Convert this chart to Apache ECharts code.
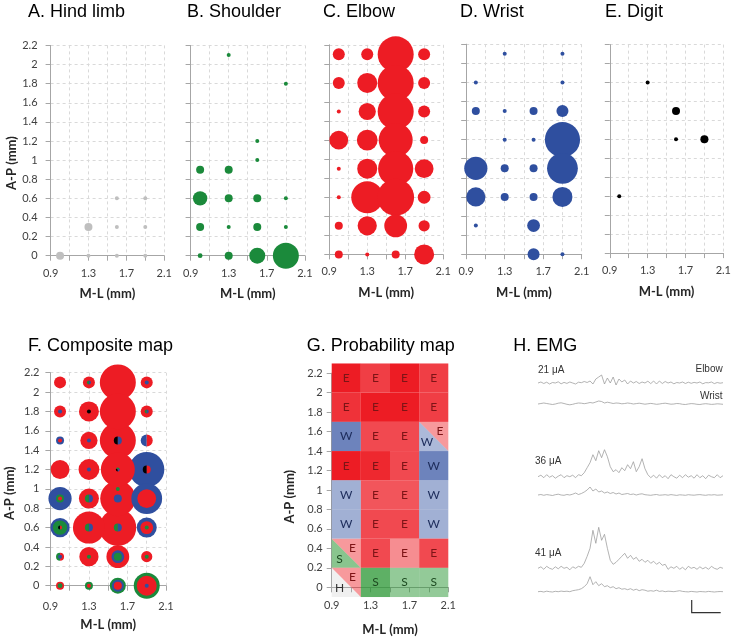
<!DOCTYPE html>
<html><head><meta charset="utf-8">
<script src="https://cdn.jsdelivr.net/npm/echarts@6/dist/echarts.min.js"></script>
<style>html,body{margin:0;padding:0;background:#fff}#c{width:734px;height:640px}</style>
</head><body><div id="c"></div>
<script>
// ================= DATA =================
// M-L axis tick labels shown, A-P tick labels are numeric
const mlTickLabels = ['0.9', '1.3', '1.7', '2.1'];

// Bubble maps: [M-L (mm), A-P (mm), response size]
const hindlimb = [[1.0,0,2],[1.3,0.3,2],[1.3,0,1],[1.6,0.6,1],[1.6,0.3,1],[1.6,0,1],[1.9,0.6,1],[1.9,0.3,1],[1.9,0,1]];
const shoulder = [[1.3,2.1,1],[1.9,1.8,1],[1.6,1.2,1],[1.6,1.0,1],[1.0,0.9,2],[1.3,0.9,2],[1.0,0.6,3.6],[1.3,0.6,2],[1.6,0.6,2],[1.9,0.6,1],
  [1.0,0.3,2],[1.3,0.3,1],[1.6,0.3,2],[1.9,0.3,1],[1.0,0,1.2],[1.3,0,2],[1.6,0,4],[1.9,0,6.5]];
const elbow = [[1.0,2.1,3],[1.3,2.1,3],[1.6,2.1,9],[1.9,2.1,3],
  [1.0,1.8,3],[1.3,1.8,5],[1.6,1.8,9],[1.9,1.8,3],
  [1.0,1.5,1],[1.3,1.5,4.3],[1.6,1.5,9],[1.9,1.5,3],
  [1.0,1.2,4.7],[1.3,1.2,5.2],[1.6,1.2,8.5],[1.9,1.2,2],
  [1.0,0.9,1],[1.3,0.9,5],[1.6,0.9,8.8],[1.9,0.9,4.7],
  [1.0,0.6,1],[1.3,0.6,8],[1.6,0.6,9.2],[1.9,0.6,3.2],
  [1.0,0.3,2],[1.3,0.3,4.8],[1.6,0.3,5.7],[1.9,0.3,2.8],
  [1.0,0,2],[1.3,0,1],[1.6,0,2],[1.9,0,5]];
const wrist = [[1.3,2.1,1],[1.9,2.1,1],[1.0,1.8,1],[1.9,1.8,1],
  [1.0,1.5,2],[1.3,1.5,1],[1.6,1.5,2],[1.9,1.5,3],
  [1.3,1.2,1],[1.6,1.2,1],[1.9,1.2,8.8],
  [1.0,0.9,5.8],[1.3,0.9,2],[1.6,0.9,2],[1.9,0.9,7.7],
  [1.0,0.6,4.8],[1.3,0.6,2],[1.6,0.6,2],[1.9,0.6,5],
  [1.0,0.3,1],[1.6,0.3,3.2],
  [1.6,0,3],[1.9,0,1]];
const digit = [[1.3,1.8,1],[1.6,1.5,2],[1.6,1.2,1],[1.9,1.2,2],[1.0,0.6,1]];

// Probability map: cell centres, dominant response (split cells "lowerLeft/upperRight"), probability
const probML = [1.05, 1.35, 1.65, 1.95];
const probAP = [2.15, 1.85, 1.55, 1.25, 0.95, 0.65, 0.35, 0.05];
const probLabel = [
  ['E','E','E','E'],
  ['E','E','E','E'],
  ['W','E','E','W/E'],
  ['E','E','E','W'],
  ['W','E','E','W'],
  ['W','E','E','W'],
  ['S/E','E','E','E'],
  ['H/E','S','S','S']
];
const probValue = [
  [1.0, 0.85, 1.0, 0.85],
  [0.9, 1.0, 1.0, 0.85],
  [0.7, 0.8, 0.8, [0.4, 0.45]],
  [1.0, 0.95, 0.8, 0.7],
  [0.45, 0.75, 0.75, 0.45],
  [0.45, 0.8, 0.8, 0.45],
  [[0.55, 0.45], 0.8, 0.5, 0.8],
  [[0.2, 0.45], 0.75, 0.5, 0.5]
];

// EMG traces (amplitude, arbitrary units, one sample per step)
const emgElbow21 = [0,1,-0.5,0.8,-1,0.5,0,1.2,-0.8,0.6,-0.4,1,0,-1,0.8,0.3,1.5,0.5,2,-1,4,6,8,-1,5,0,6,-2,4,1,3,-1,2,0,1.5,-0.5,1,0,1.8,-0.6,2,-1,2,-0.5,1.5,0,1,-0.8,0.5,0,1,-0.5,0.8,-0.3,0.6,0,1,-0.8,0.4,0.2,1,-0.6,0.5,-0.2,0.3];
const emgWrist21 = [0,0.5,1,0.5,0,-0.5,0,0.8,1.2,0.5,-0.3,-0.8,-0.3,0.5,1,0.8,0.3,0.8,1.5,1,2,3,2.5,1,1.8,1.2,0.5,1,0.8,0.2,0.5,1,0.6,0,0.4,0.8,0.3,-0.2,0.2,0.6,0.2,-0.3,0,0.5,0.8,0.3,-0.2,0,0.5,0.3,-0.3,-0.5,0,0.4,0.2,-0.3,-0.5,0,0.3,0,-0.4,-0.2,0.2,0,-0.3];
const emgElbow36 = [0,1.5,-1,2,-0.5,1,-1.5,0.5,2,-1,1,0,1.5,-1,2,1,4,9,14,22,16,26,19,27,20,10,5,7,4,9,6,12,8,15,5,10,18,8,2,-1,1.5,-1.5,2,-1,1,-2,2,0,-1.5,1.5,-1,2,-0.5,1,-1.5,2,-1,1,-2,1.5,0,-1,2,-1,1];
const emgWrist36 = [0,0.5,-0.3,0.4,0,-0.5,0.3,0.8,0,-0.3,0.5,0,0.8,2,0.5,1.5,3,5,8,4,6,3,4,2,3,1.5,2.5,1,2,0.5,1,1.5,0.5,1,0,0.8,1.2,0.3,0,-0.3,0.2,0.5,-0.2,0,0.3,-0.2,0.4,0,-0.4,0.2,0,-0.3,0.3,0,-0.2,0.2,0.4,0,-0.3,0.2,0,0.3,-0.2,0,0.2];
const emgElbow41 = [0,1.5,-1,2,0,-1,1.5,-0.5,2,0,1,-1.5,1.5,0,2,1,5,12,20,38,25,41,28,34,20,8,4,6,9,12,15,10,13,9,11,7,9,6,8,5,7,4,6,3,4,-1,1.5,0,2,-1,1,-1.5,2,0,1,-1,1.5,-0.5,1,-1,2,0,-1,1,0];
const emgWrist41 = [0,0.3,-0.3,0.5,0,-0.3,0.4,0,0.6,0.2,0.5,0,1,1.5,2,3,5,8,15,7,10,6,8,5,6,4,5,3,4,2.5,3,2,3,1.5,2.5,1,2,1.5,0.5,1,0.5,1.5,0.3,0.8,0,0.5,0.3,0,0.5,1,0.3,0,-0.2,0.3,0,-0.3,0.2,0,-0.2,0.3,0,-0.3,0,0.2,0];
const emgCurrents = ['21 μA', '36 μA', '41 μA'];
const emgMuscles = ['Elbow', 'Wrist'];

// ================= STYLE / LAYOUT =================
const FONT = 'Lato, "Liberation Sans", Arial, sans-serif';
const TFONT = '"Liberation Sans", Arial, sans-serif';
const UNIT = 4; // px of bubble diameter per response unit
const COLORS = { hind:'#bfbfbf', shoulder:'#1b8a3b', elbow:'#ed1c24', wrist:'#2f4f9f', digit:'#000000' };
const AXIS_COLOR = '#a6a6a6';
const GRID_COLOR = '#d9d9d9';

const grids = [], xAxes = [], yAxes = [], series = [], titles = [];

function addPlot(cfg) {
  const gi = grids.length;
  grids.push({ left: cfg.left, top: cfg.top, width: cfg.width, height: cfg.height });
  xAxes.push({
    gridIndex: gi, type: 'value', min: 0.9, max: 2.1, interval: 0.2,
    name: 'M-L (mm)', nameLocation: 'middle', nameGap: cfg.xNameGap,
    nameTextStyle: { fontFamily: FONT, fontWeight: 'bold', fontSize: 13, color: '#262626' },
    axisLine: { show: true, onZero: false, lineStyle: { color: AXIS_COLOR, width: 1 } },
    axisTick: { show: true, length: 5, lineStyle: { color: AXIS_COLOR } },
    axisLabel: { show: true, margin: cfg.xMargin, fontFamily: FONT, fontSize: 11, color: '#404040',
      formatter: v => { const s = (+v).toFixed(1); return mlTickLabels.includes(s) ? s : ''; } },
    splitLine: { show: cfg.split !== false, lineStyle: { color: GRID_COLOR, type: [3, 3], width: 1 } }
  });
  yAxes.push({
    gridIndex: gi, type: 'value', min: 0, max: 2.2, interval: 0.2,
    name: cfg.yName ? 'A-P (mm)' : '', nameLocation: 'middle', nameGap: cfg.yNameGap || 30,
    nameTextStyle: { fontFamily: FONT, fontWeight: 'bold', fontSize: 13, color: '#262626',
      padding: [0, (cfg.yNameShift || 0) * 2, 0, 0] },
    axisLine: { show: true, onZero: false, lineStyle: { color: AXIS_COLOR, width: 1 } },
    axisTick: { show: true, length: 5, lineStyle: { color: AXIS_COLOR } },
    axisLabel: { show: !!cfg.yName, margin: cfg.yMargin || 12, fontFamily: FONT, fontSize: 11, color: '#404040',
      formatter: v => String(Math.round(v * 10) / 10) },
    splitLine: { show: cfg.split !== false, lineStyle: { color: GRID_COLOR, type: [3, 3], width: 1 } }
  });
  titles.push({ text: cfg.title, left: cfg.titleLeft, top: cfg.titleTop, padding: 0,
    textStyle: { fontFamily: TFONT, fontSize: 18, fontWeight: 'normal', color: '#000' } });
  return gi;
}

// Top row bubble panels
const topPanels = [
  { title: 'A. Hind limb', titleLeft: 28, data: hindlimb, color: COLORS.hind, left: 50.6, top: 45.4, width: 113.6, height: 210.3, yName: true, yNameShift: 12.5 },
  { title: 'B. Shoulder', titleLeft: 187, data: shoulder, color: COLORS.shoulder, left: 190.6, top: 45.4, width: 114.3, height: 210.3 },
  { title: 'C. Elbow', titleLeft: 323, data: elbow, color: COLORS.elbow, left: 329.3, top: 44.8, width: 113.8, height: 209.6 },
  { title: 'D. Wrist', titleLeft: 460, data: wrist, color: COLORS.wrist, left: 466.2, top: 44.2, width: 115.5, height: 210 },
  { title: 'E. Digit', titleLeft: 605, data: digit, color: COLORS.digit, left: 609.8, top: 44.6, width: 114.3, height: 208.5 }
];
topPanels.forEach(p => {
  const gi = addPlot(Object.assign({ titleTop: 3, xNameGap: 32, xMargin: 12, yNameGap: 31, yMargin: 13 }, p));
  series.push({
    type: 'scatter', xAxisIndex: gi, yAxisIndex: gi, data: p.data, clip: false, silent: true,
    symbolSize: v => v[2] * UNIT, itemStyle: { color: p.color, opacity: 1 }
  });
});

// F. Composite map (built from shoulder, elbow, wrist, digit maps)
const compSources = [digit, shoulder, wrist, elbow];   // left-to-right order when sizes tie
const compColors = [COLORS.digit, COLORS.shoulder, COLORS.wrist, COLORS.elbow];
const groups = new Map();
compSources.forEach((arr, si) => arr.forEach(([x, y, n]) => {
  const k = x + ',' + y;
  if (!groups.has(k)) groups.set(k, []);
  groups.get(k).push({ x, y, n, si });
}));
const compData = [];
groups.forEach(list => {
  list.sort((a, b) => b.n - a.n || a.si - b.si);
  let i = 0;
  while (i < list.length) {
    let j = i;
    while (j + 1 < list.length && list[j + 1].n === list[i].n) j++;
    const m = j - i + 1;
    for (let k = 0; k < m; k++) { const it = list[i + k]; compData.push([it.x, it.y, it.n, it.si, k, m]); }
    i = j + 1;
  }
});
compData.sort((a, b) => b[2] - a[2]);
const gF = addPlot({ title: 'F. Composite map', titleLeft: 28, titleTop: 337, left: 50.4, top: 372.7, width: 115.6, height: 213,
  yName: true, yNameShift: 14, xNameGap: 33, xMargin: 15, yNameGap: 34, yMargin: 11 });
series.push({
  type: 'custom', xAxisIndex: gF, yAxisIndex: gF, data: compData, encode: { x: 0, y: 1 }, clip: false, silent: true,
  renderItem(params, api) {
    const c = api.coord([api.value(0), api.value(1)]);
    const r = api.value(2) * UNIT / 2;
    const k = api.value(4), m = api.value(5);
    const fill = compColors[api.value(3)];
    if (m === 1) return { type: 'circle', shape: { cx: c[0], cy: c[1], r }, style: { fill } };
    const a0 = Math.PI / 2 + k * 2 * Math.PI / m;
    return { type: 'sector', shape: { cx: c[0], cy: c[1], r0: 0, r, startAngle: a0, endAngle: a0 + 2 * Math.PI / m, clockwise: true }, style: { fill } };
  }
});

// G. Probability map
const probBase = { E: [237, 28, 36], W: [47, 79, 160], S: [40, 150, 50], H: [180, 180, 180] };
const probText = { E: '#7d1416', W: '#1c2b5a', S: '#1d4a20', H: '#333333' };
const rgba = (lab, p) => { const b = probBase[lab]; return 'rgba(' + b[0] + ',' + b[1] + ',' + b[2] + ',' + p + ')'; };
const gG = addPlot({ title: 'G. Probability map', titleLeft: 306.7, titleTop: 337, left: 331.7, top: 373.2, width: 116.6, height: 214.1,
  yName: true, yNameShift: 16.5, split: false, xNameGap: 36, xMargin: 13, yNameGap: 35, yMargin: 9 });
const gData = [];
probAP.forEach((ap, r) => probML.forEach((ml, c) => gData.push([ml, ap, r, c])));
const letterStyle = (t, x, y) => ({ type: 'text', x, y, style: { text: t, fill: probText[t], font: '12px ' + FONT,
  align: 'center', verticalAlign: 'middle', textAlign: 'center', textVerticalAlign: 'middle' } });
series.push({
  type: 'custom', xAxisIndex: gG, yAxisIndex: gG, data: gData, encode: { x: 0, y: 1 }, clip: false, silent: true,
  renderItem(params, api) {
    const ml = api.value(0), ap = api.value(1), r = api.value(2), c = api.value(3);
    const tl = api.coord([ml - 0.15, ap + 0.15]), br = api.coord([ml + 0.15, ap - 0.15]);
    const x0 = tl[0], y0 = tl[1], x1 = br[0], y1 = br[1], w = x1 - x0, h = y1 - y0;
    const lab = probLabel[r][c].split('/');
    const p = probValue[r][c];
    const children = [];
    if (lab.length === 1) {
      children.push({ type: 'rect', shape: { x: x0, y: y0, width: w, height: h }, style: { fill: rgba(lab[0], p) } });
      children.push(letterStyle(lab[0], x0 + w / 2, y0 + h / 2));
    } else {
      children.push({ type: 'polygon', shape: { points: [[x0, y0], [x0, y1], [x1, y1]] }, style: { fill: rgba(lab[0], p[0]) } });
      children.push({ type: 'polygon', shape: { points: [[x0, y0], [x1, y0], [x1, y1]] }, style: { fill: rgba(lab[1], p[1]) } });
      children.push(letterStyle(lab[0], x0 + 0.27 * w, y0 + 0.7 * h));
      children.push(letterStyle(lab[1], x0 + 0.71 * w, y0 + 0.31 * h));
    }
    return { type: 'group', children };
  }
});

// H. EMG traces
titles.push({ text: 'H. EMG', left: 513.3, top: 337, padding: 0,
  textStyle: { fontFamily: TFONT, fontSize: 18, fontWeight: 'normal', color: '#000' } });
const emgTraces = [emgElbow21, emgWrist21, emgElbow36, emgWrist36, emgElbow41, emgWrist41];
const emgBaselines = [383, 404, 476.7, 495, 568.3, 591.7];
emgTraces.forEach((tr, i) => {
  const gi = grids.length;
  grids.push({ left: 538, width: 185, top: emgBaselines[i] - 45, height: 50 });
  xAxes.push({ gridIndex: gi, type: 'value', min: 0, max: tr.length - 1, show: false });
  yAxes.push({ gridIndex: gi, type: 'value', min: -5, max: 45, show: false });
  series.push({ type: 'line', xAxisIndex: gi, yAxisIndex: gi, data: tr.map((v, k) => [k, v]), showSymbol: false, symbol: 'none',
    silent: true, lineStyle: { color: '#9a9a9a', width: 0.75 } });
});
const txt = (text, x, y, align) => ({ type: 'text', x, y, style: { text, fill: '#333', font: '10px ' + TFONT,
  align, verticalAlign: 'middle', textAlign: align, textVerticalAlign: 'middle' } });
const graphics = [
  txt(emgCurrents[0], 538, 370, 'left'),
  txt(emgMuscles[0], 722.7, 369, 'right'),
  txt(emgMuscles[1], 722.5, 396, 'right'),
  txt(emgCurrents[1], 535, 461, 'left'),
  txt(emgCurrents[2], 535, 553, 'left'),
  { type: 'polyline', shape: { points: [[691.7, 600], [691.7, 612.7], [720.7, 612.7]] }, style: { stroke: '#333', lineWidth: 1.2, fill: null } }
];

const chart = echarts.init(document.getElementById('c'), null, { renderer: 'canvas', width: 734, height: 640 });
chart.setOption({
  animation: false, backgroundColor: '#fff',
  title: titles, grid: grids, xAxis: xAxes, yAxis: yAxes, series, graphic: graphics
});
</script></body></html>
